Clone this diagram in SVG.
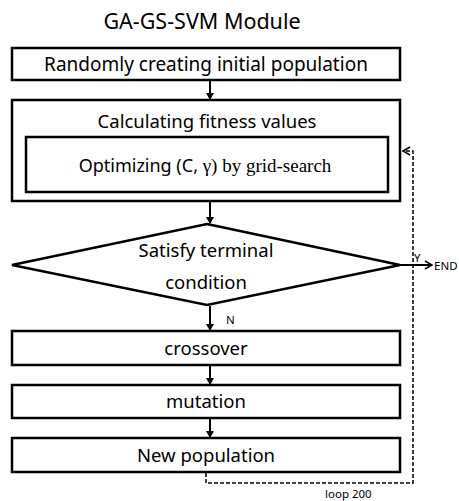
<svg xmlns="http://www.w3.org/2000/svg" width="459" height="501" viewBox="0 0 459 501">
<style>
.box{fill:#fff;stroke:#000;stroke-width:2.5}
.t{font-family:"Noto Sans","Open Sans","Liberation Sans",sans-serif;font-size:18.5px;text-anchor:middle;fill:#000}
.s{font-family:"Noto Sans","Liberation Sans",sans-serif;font-size:11.5px;fill:#000}
.ln{stroke:#000;stroke-width:2;fill:none}
.dash{stroke:#000;stroke-width:1.5;fill:none;stroke-dasharray:4 2}
</style>
<defs>
<marker id="ah" markerWidth="8" markerHeight="8" refX="6" refY="4" orient="auto" markerUnits="userSpaceOnUse">
<path d="M0,0 L7,4 L0,8 Z" fill="#000"/>
</marker>
<marker id="oh" markerWidth="10" markerHeight="10" refX="8" refY="5" orient="auto" markerUnits="userSpaceOnUse">
<path d="M1,1 L8,5 L1,9" fill="none" stroke="#000" stroke-width="1.5"/>
</marker>
</defs>
<rect width="459" height="501" fill="#fff"/>
<text x="202" y="29" class="t" style="font-size:21.5px">GA-GS-SVM Module</text>
<g id="init"><rect class="box" x="12" y="48" width="388" height="32"/><text class="t" x="206" y="71" style="font-size:19px">Randomly creating initial population</text></g>
<g id="fitness"><rect class="box" x="12" y="100" width="388" height="101"/><text class="t" x="207" y="128">Calculating fitness values</text></g>
<g id="grid"><rect class="box" x="26" y="137" width="362" height="55"/><text class="t" x="205" y="172" style="font-size:18px">Optimizing (C, <tspan style="font-family:'Liberation Serif',serif;font-size:19px">γ) by grid-search</tspan></text></g>
<g id="cond"><polygon class="box" points="207,224 400,265 207,305 12,265"/><text class="t" x="206" y="257">Satisfy terminal</text><text class="t" x="206" y="289">condition</text></g>
<g id="crossover"><rect class="box" x="12" y="331" width="388" height="34"/><text class="t" x="206" y="355">crossover</text></g>
<g id="mutation"><rect class="box" x="12" y="385" width="388" height="33"/><text class="t" x="206" y="408">mutation</text></g>
<g id="newpop"><rect class="box" x="12" y="438" width="388" height="34"/><text class="t" x="206" y="462">New population</text></g>
<g id="connectors">
<line class="ln" x1="210" y1="81" x2="210" y2="99" marker-end="url(#ah)"/>
<line class="ln" x1="210" y1="202" x2="210" y2="223" marker-end="url(#ah)"/>
<line class="ln" x1="210" y1="306" x2="210" y2="330" marker-end="url(#ah)"/>
<line class="ln" x1="210" y1="366" x2="210" y2="384" marker-end="url(#ah)"/>
<line class="ln" x1="210" y1="419" x2="210" y2="437" marker-end="url(#ah)"/>
<line class="ln" x1="400" y1="265" x2="432" y2="265" marker-end="url(#oh)"/>
<polyline class="dash" points="206,473 206,483 413,483 413,151 403,151" marker-end="url(#oh)"/>
<text class="s" x="226" y="324">N</text>
<text class="s" x="414" y="262">Y</text>
<text class="s" x="434" y="270">END</text>
<text class="s" x="325" y="498">loop 200</text>
</g>
</svg>
